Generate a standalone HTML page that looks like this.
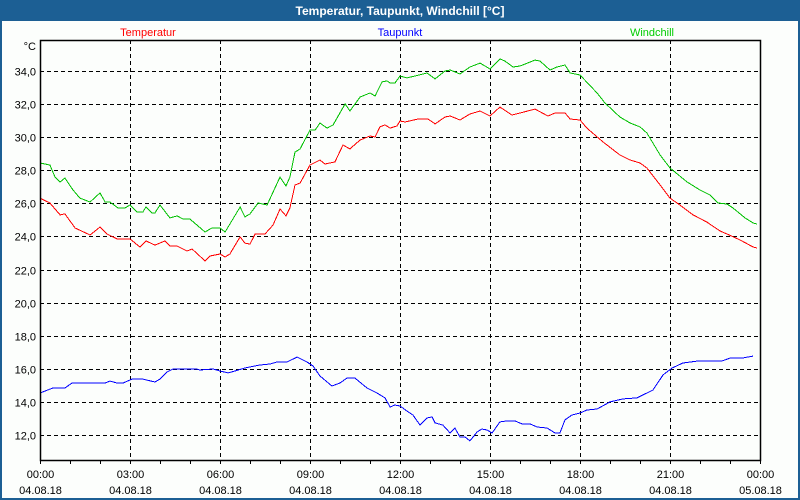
<!DOCTYPE html>
<html><head><meta charset="utf-8"><style>
html,body{margin:0;padding:0;background:#fff}
svg{display:block}
text{font-family:"Liberation Sans","DejaVu Sans",sans-serif;font-size:11px}
</style></head><body>
<svg id="chart" width="800" height="500" xmlns="http://www.w3.org/2000/svg">
<rect x="0" y="0" width="800" height="500" fill="#1c5f94"/>
<rect x="2" y="21" width="796" height="477" fill="#fcfefc"/>
<text x="400" y="15" text-anchor="middle" fill="#fff" font-weight="bold" style="font-size:12px">Temperatur, Taupunkt, Windchill [°C]</text>
<text x="148" y="36" text-anchor="middle" fill="#f00">Temperatur</text>
<text x="400" y="36" text-anchor="middle" fill="#00f">Taupunkt</text>
<text x="652" y="36" text-anchor="middle" fill="#0c0">Windchill</text>
<text x="36" y="50" text-anchor="end" fill="#000">°C</text>
<g id="grid"></g>
<g id="series"></g>
<rect x="40.5" y="40.5" width="720" height="420" fill="none" stroke="#000" stroke-width="1.5"/>
</svg>
<script>
const yTicks=[12,14,16,18,20,22,24,26,28,30,32,34];
const xTickHours=[0,3,6,9,12,15,18,21,24];
const xTimeLabels=["00:00","03:00","06:00","09:00","12:00","15:00","18:00","21:00","00:00"];
const xDateLabels=["04.08.18","04.08.18","04.08.18","04.08.18","04.08.18","04.08.18","04.08.18","04.08.18","05.08.18"];
const tempHours=[0,.33,.67,.83,1.17,1.67,2,2.23,2.57,3,3.33,3.53,3.83,4.17,4.33,4.57,4.9,5.07,5.5,5.67,6,6.17,6.33,6.67,6.83,7,7.17,7.5,7.77,8,8.2,8.33,8.5,8.67,9,9.33,9.5,9.83,10.1,10.33,10.67,11,11.17,11.33,11.5,11.67,11.9,12,12.17,12.6,12.93,13.17,13.5,13.67,14,14.33,14.67,15,15.33,15.73,16,16.5,16.93,17.17,17.5,17.67,18,18.23,18.77,19.33,19.67,20,20.23,20.67,21,21.33,21.77,22.23,22.67,22.9,23.33,23.77,23.9];
const tempValues=[26.32,26.02,25.30,25.36,24.51,24.09,24.57,24.15,23.85,23.85,23.36,23.73,23.48,23.73,23.42,23.42,23.12,23.24,22.52,22.82,22.94,22.76,22.94,23.97,23.60,23.54,24.15,24.15,24.69,25.66,25.24,25.72,27.11,27.23,28.32,28.62,28.38,28.50,29.53,29.29,29.83,30.07,30.01,30.62,30.74,30.55,30.68,30.98,30.92,31.10,31.10,30.80,31.22,31.28,31.04,31.40,31.58,31.28,31.82,31.34,31.46,31.70,31.28,31.46,31.46,31.10,31.04,30.55,29.71,28.92,28.62,28.44,28.14,27.11,26.32,25.90,25.30,24.87,24.33,24.15,23.79,23.36,23.30];
const windHours=[0,.33,.5,.67,.83,1.1,1.33,1.67,2,2.17,2.33,2.6,2.83,3,3.23,3.43,3.53,3.73,3.83,4,4.33,4.57,4.77,5,5.23,5.5,5.73,6,6.17,6.67,6.83,7,7.27,7.57,8,8.2,8.33,8.5,8.67,9,9.17,9.33,9.57,9.77,10.17,10.33,10.67,11,11.17,11.4,11.57,11.67,11.83,12,12.23,12.5,12.9,13.17,13.5,13.67,14,14.33,14.67,15,15.33,15.5,15.77,16,16.5,16.67,17,17.23,17.5,17.67,18,18.57,18.83,19.33,19.67,20,20.23,20.67,21,21.57,22,22.33,22.6,22.9,23.1,23.5,23.77,23.9];
const windValues=[28.44,28.32,27.59,27.29,27.53,26.81,26.32,26.08,26.63,26.08,26.08,25.72,25.72,25.90,25.48,25.48,25.78,25.42,25.42,25.90,25.12,25.24,25.05,25.05,24.69,24.27,24.51,24.51,24.27,25.78,25.18,25.36,26.02,25.90,27.59,27.05,27.59,29.10,29.29,30.43,30.43,30.86,30.55,30.74,32.01,31.58,32.43,32.67,32.49,33.34,33.40,33.27,33.27,33.70,33.58,33.70,33.88,33.52,34.00,34.06,33.82,34.24,34.48,34.12,34.73,34.60,34.24,34.30,34.66,34.60,34.06,34.24,34.36,33.88,33.76,32.67,32.07,31.22,30.86,30.62,30.25,28.92,28.14,27.29,26.81,26.51,26.02,25.96,25.72,25.12,24.81,24.75];
const dewHours=[0,.43,.83,1.07,2.17,2.33,2.57,2.77,3.07,3.43,3.83,4,4.23,4.43,5.23,5.33,5.77,6,6.27,6.5,6.83,7.33,7.67,7.9,8.23,8.57,8.9,9.1,9.33,9.73,10,10.23,10.5,10.9,11.23,11.5,11.67,11.83,12,12.23,12.43,12.67,12.9,13.07,13.17,13.43,13.67,13.83,14,14.17,14.33,14.57,14.73,14.9,15.07,15.33,15.57,15.83,16.07,16.33,16.57,16.9,17.17,17.33,17.5,17.73,18,18.23,18.57,19,19.43,19.9,20.23,20.43,20.77,21.07,21.43,21.93,22.73,23,23.4,23.77];
const dewValues=[14.54,14.84,14.84,15.14,15.14,15.26,15.14,15.14,15.38,15.38,15.20,15.38,15.81,15.99,15.99,15.93,15.99,15.87,15.75,15.87,16.05,16.23,16.29,16.41,16.41,16.71,16.41,16.17,15.57,14.96,15.14,15.44,15.44,14.84,14.54,14.24,13.69,13.81,13.75,13.45,13.21,12.60,13.03,13.09,12.73,12.60,12.12,12.42,11.88,11.88,11.64,12.18,12.36,12.30,12.12,12.79,12.85,12.85,12.67,12.67,12.48,12.42,12.12,12.12,12.91,13.21,13.33,13.51,13.57,14.00,14.18,14.24,14.54,14.72,15.63,16.05,16.35,16.47,16.47,16.65,16.65,16.77];

const NS="http://www.w3.org/2000/svg";
const X0=40,X1=760,PY0=40,PY1=460;
function xs(h){return X0+h*(X1-X0)/24;}
function ys(v){return 71+(34-v)*16.545;}
const grid=document.getElementById('grid');
const series=document.getElementById('series');
function mk(tag,attrs,parent){const e=document.createElementNS(NS,tag);for(const k in attrs)e.setAttribute(k,attrs[k]);parent.appendChild(e);return e;}
yTicks.forEach(v=>{
  const y=Math.round(ys(v))+.5;
  const l=mk('line',{x1:X0,x2:X1,y1:y,y2:y,stroke:'#000','stroke-dasharray':'4,3'},grid);
  
  
  const t=mk('text',{x:36,y:y+4,'text-anchor':'end',fill:'#000'},grid);
  t.textContent=v.toFixed(1).replace('.',',');
  
  
});
for(let h=0;h<=24;h++){
  const x=Math.round(xs(h))+.5;
  const tk=mk('line',{x1:x,x2:x,y1:PY1,y2:PY1+4,stroke:'#000'},grid);
  
  
}
xTickHours.forEach((h,i)=>{
  const x=Math.round(xs(h))+.5;
  if(h>0&&h<24){
    const l=mk('line',{x1:x,x2:x,y1:PY0,y2:PY1,stroke:'#000','stroke-dasharray':'4,3'},grid);
    
    
  }
  const t1=mk('text',{x:x,y:478,'text-anchor':'middle',fill:'#000'},grid);
  t1.textContent=xTimeLabels[i];
  
  
  const t2=mk('text',{x:x,y:494,'text-anchor':'middle',fill:'#000'},grid);
  t2.textContent=xDateLabels[i];
  
  
});
function drawLine(hours,vals,color,name){
  const d=hours.map((h,i)=>(i?'L':'M')+xs(h).toFixed(1)+','+ys(vals[i]).toFixed(1)).join(' ');
  const p=mk('path',{d:d,fill:'none',stroke:color,'stroke-width':1,'shape-rendering':'crispEdges'},series);
  
  
}
drawLine(windHours,windValues,'#00c000','windchill-line');
drawLine(tempHours,tempValues,'#ff0000','temperatur-line');
drawLine(dewHours,dewValues,'#0000ff','taupunkt-line');
</script>
</body></html>
